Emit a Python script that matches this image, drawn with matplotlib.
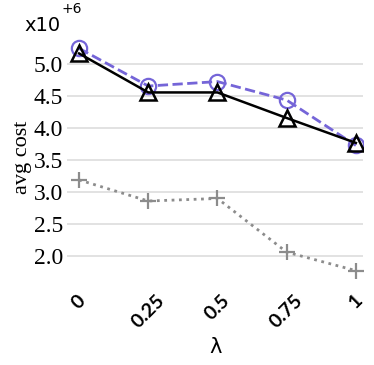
import matplotlib
matplotlib.use('Agg')
import matplotlib.pyplot as plt

# data
lambdas = ['0', '0.25', '0.5', '0.75', '1']
circle_vals = [5.25, 4.66, 4.73, 4.44, 3.73]
triangle_vals = [5.17, 4.56, 4.56, 4.16, 3.77]
plus_vals = [3.19, 2.86, 2.90, 2.06, 1.77]
yticks = [2.0, 2.5, 3.0, 3.5, 4.0, 4.5, 5.0]

fig = plt.figure(figsize=(3.74, 3.65), dpi=100)
ax = fig.add_axes([0.18, 0.22, 0.79, 0.70])

x = range(len(lambdas))
ax.plot(x, plus_vals, color='#8c8c8c', linestyle=':', linewidth=2,
        marker='+', markersize=12, markeredgewidth=1.6, zorder=3)
ax.plot(x, circle_vals, color='#7565d8', linestyle='--', linewidth=2,
        marker='o', markersize=11, markerfacecolor='none',
        markeredgewidth=1.6, zorder=3)
ax.plot(x, triangle_vals, color='black', linestyle='-', linewidth=1.8,
        marker='^', markersize=11, markerfacecolor='none',
        markeredgewidth=1.8, zorder=4)

ax.set_xlim(-0.17, 4.1)
ax.set_ylim(1.55, 5.55)
ax.set_yticks(yticks)
ax.set_yticklabels(['%.1f' % v for v in yticks],
                   family='Liberation Serif', fontsize=17)
ax.set_xticks(list(x))
ax.set_xticklabels(lambdas, rotation=45, family='Lato', fontsize=14,
                   fontweight='bold')
ax.tick_params(length=0, pad=3)
ax.tick_params(axis='x', pad=5)

ax.grid(axis='y', color='#dddddd', linewidth=1.2)
ax.set_axisbelow(True)
for s in ax.spines.values():
    s.set_visible(False)

ax.set_ylabel('avg cost', family='Liberation Serif', fontsize=16, labelpad=1)
ax.set_xlabel('λ', family='DejaVu Sans', fontsize=15, labelpad=4)

fig.text(0.065, 0.915, 'x10', family='DejaVu Sans', fontsize=14)
fig.text(0.165, 0.965, '+6', family='DejaVu Sans', fontsize=10)

fig.savefig('out.png', dpi=100)
